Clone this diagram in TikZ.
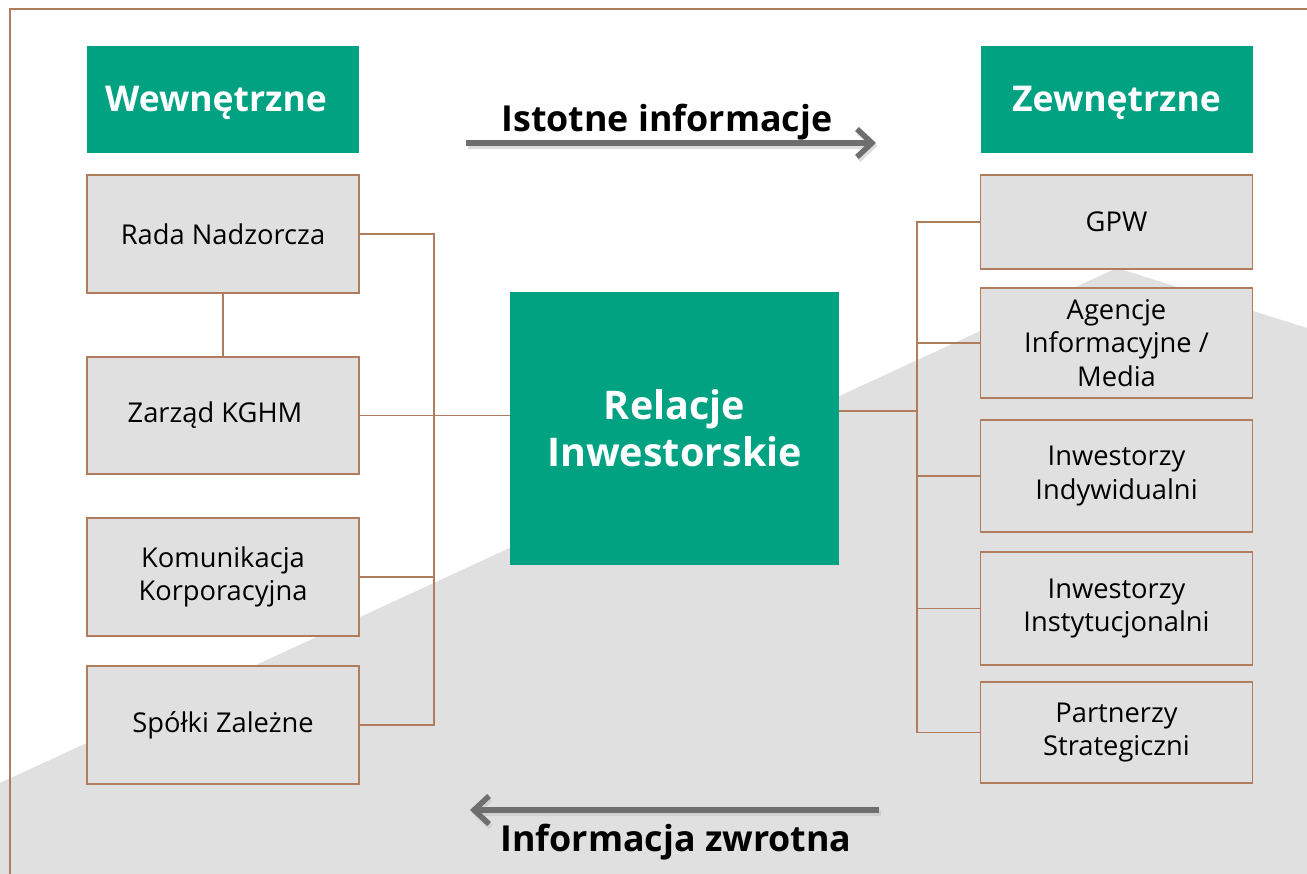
\documentclass[tikz,border=0pt]{standalone}
\usepackage{fontspec}
\setmainfont{Open Sans}
\usetikzlibrary{arrows.meta,calc}
\definecolor{grn}{HTML}{00A282}
\definecolor{brn}{HTML}{B07C5E}
\definecolor{lgr}{HTML}{E0E0E0}
\definecolor{arr}{HTML}{6E6E6E}
\begin{document}
\begin{tikzpicture}[x=1pt,y=-1pt,
  hdr/.style={fill=grn,draw=none,text=white,font=\fontsize{35.5}{40}\selectfont\bfseries,minimum width=272pt,minimum height=107pt,inner sep=0pt,text height=25pt,text depth=0pt},
  gbox/.style={fill=lgr,draw=brn,line width=1.7pt,text=black,font=\fontsize{27.3}{33.5}\selectfont,align=center,minimum width=272pt,inner sep=0pt},
  conn/.style={draw=brn,line width=1.7pt},
  bigarrow/.style={draw=arr,line width=5.5pt,-{Straight Barb[length=15pt,width=28pt]}},
  shad/.style={draw=black!25,opacity=0.5,line width=5.5pt,-{Straight Barb[length=15pt,width=28pt]}},
  lbl/.style={font=\fontsize{35.8}{40}\selectfont\bfseries,text=black,inner sep=0pt,text height=26pt,text depth=0pt}
]
\useasboundingbox (0,0) rectangle (1307,874);
\fill[white] (0,0) rectangle (1307,874);
% gray background polygon
\fill[lgr] (0,783) -- (1117,268) -- (1307,328) -- (1307,874) -- (0,874) -- cycle;
% frame
\draw[brn,line width=1.7pt] (10,880) -- (10,9) -- (1320,9);

% headers
\node[hdr] (wew) at (223,99.5) {Wewnętrzne\hspace*{14pt}};
\node[hdr] (zew) at (1116.5,99.5) {Zewnętrzne};

% left boxes
\node[gbox,minimum height=118pt] (rada) at (223,234) {Rada Nadzorcza};
\node[gbox,minimum height=117pt] (zarzad) at (223,415.5) {Zarząd KGHM\hspace*{16pt}};
\node[gbox,minimum height=118pt] (kom) at (223,577) {Komunikacja\\Korporacyjna};
\node[gbox,minimum height=118pt] (spolki) at (223,725) {Spółki Zależne};

% center
\node[fill=grn,draw=none,text=white,font=\fontsize{39.5}{47}\selectfont\bfseries,align=center,minimum width=329pt,minimum height=273pt,inner sep=0pt] (ri) at (674.5,428.5) {Relacje\\Inwestorskie};

% right boxes
\node[gbox,minimum height=94pt] (gpw) at (1116.5,222) {GPW};
\node[gbox,minimum height=110pt] (agen) at (1116.5,343) {Agencje\\Informacyjne /\\Media};
\node[gbox,minimum height=112pt] (indyw) at (1116.5,476) {Inwestorzy\\Indywidualni};
\node[gbox,minimum height=113pt] (instyt) at (1116.5,608.5) {Inwestorzy\\Instytucjonalni};
\node[gbox,minimum height=101pt] (partn) at (1116.5,732.5) {Partnerzy\\Strategiczni};

% left connectors
\coordinate (lbus) at (434,0);
\draw[conn] (rada.south) -- (zarzad.north);
\draw[conn] (rada.east) -- (rada.east -| lbus) -- (spolki.east -| lbus) -- (spolki.east);
\draw[conn] (kom.east) -- (kom.east -| lbus);
\draw[conn] (zarzad.east) -- (zarzad.east -| ri.west);

% right connectors
\coordinate (rbus) at (917,0);
\coordinate (rjoin) at (917,411);
\draw[conn] (gpw.west) -- (gpw.west -| rbus) -- (partn.west -| rbus) -- (partn.west);
\draw[conn] (agen.west -| rbus) -- (agen.west);
\draw[conn] (indyw.west -| rbus) -- (indyw.west);
\draw[conn] (instyt.west -| rbus) -- (instyt.west);
\draw[conn] (rjoin -| ri.east) -- (rjoin);

% arrows
\coordinate (a1s) at (466,143);
\coordinate (a1e) at (876,143);
\coordinate (a2s) at (879,810);
\coordinate (a2e) at (470,810);
\draw[shad] ($(a1s)+(1.5,3)$) -- ($(a1e)+(1.5,3)$);
\draw[bigarrow] (a1s) -- (a1e);
\draw[shad] ($(a2s)+(1.5,3)$) -- ($(a2e)+(1.5,3)$);
\draw[bigarrow] (a2s) -- (a2e);
\node[lbl] (t1) at (667,118.5) {Istotne informacje};
\node[lbl] (t2) at (676,838) {Informacja zwrotna};
\end{tikzpicture}
\end{document}
